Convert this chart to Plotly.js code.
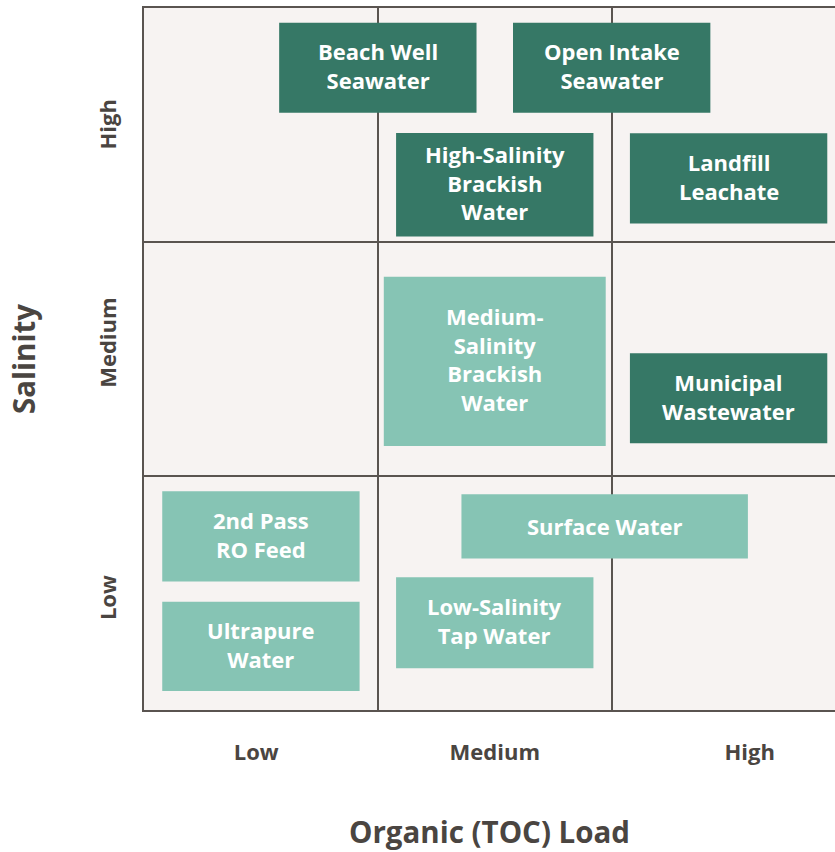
<!DOCTYPE html>
<html>
<head>
<meta charset="utf-8">
<script src="https://cdn.plot.ly/plotly-3.0.1.min.js"></script>
<style>html,body{margin:0;padding:0;background:#ffffff;overflow:hidden}#chart{width:835px;height:852px}</style>
</head>
<body>
<div id="chart"></div>
<script>
// Water sources positioned by Organic (TOC) load (x) and Salinity (y), 0..3 scale
const sourceLabels = [
  'Beach Well<br>Seawater',
  'Open Intake<br>Seawater',
  'High-Salinity<br>Brackish<br>Water',
  'Landfill<br>Leachate',
  'Medium-<br>Salinity<br>Brackish<br>Water',
  'Municipal<br>Wastewater',
  '2nd Pass<br>RO Feed',
  'Ultrapure<br>Water',
  'Surface Water',
  'Low-Salinity<br>Tap Water'
];
const organicCenter = [1.0, 2.0, 1.5, 2.5, 1.5, 2.5, 0.5, 0.5, 1.97, 1.5];
const salinityCenter = [2.745, 2.745, 2.245, 2.272, 1.49, 1.332, 0.742, 0.272, 0.785, 0.373];
const organicSpan = [0.844, 0.844, 0.844, 0.844, 0.949, 0.844, 0.844, 0.844, 1.225, 0.844];
const salinitySpan = [0.385, 0.385, 0.442, 0.385, 0.724, 0.385, 0.385, 0.382, 0.275, 0.389];
const tier = ['dark','dark','dark','dark','light','dark','light','light','light','light'];

const levelLabels = ['Low', 'Medium', 'High'];
const organicLabelPos = [0.48, 1.5, 2.59];
const salinityLabelPos = [0.466, 1.556, 2.489];
const cellBounds = [1, 2];

const colors = {dark: '#367866', light: '#86c4b4'};
const textColor = '#4a4541';
const lineColor = '#5a5450';
const FONT = '"Open Sans", "Noto Sans", sans-serif';

const shapes = sourceLabels.map((s, i) => ({
  type: 'rect', xref: 'x', yref: 'y', layer: 'above',
  x0: organicCenter[i] - organicSpan[i] / 2,
  x1: organicCenter[i] + organicSpan[i] / 2,
  y0: salinityCenter[i] - salinitySpan[i] / 2,
  y1: salinityCenter[i] + salinitySpan[i] / 2,
  fillcolor: colors[tier[i]],
  line: {width: 0}
}));

const annotations = sourceLabels.map((s, i) => ({
  x: organicCenter[i], y: salinityCenter[i], xref: 'x', yref: 'y',
  text: s, showarrow: false, align: 'center', yshift: s.indexOf('<br>') >= 0 ? 2 : 0,
  font: {family: FONT, size: 22, color: '#ffffff', weight: 'bold'}
}));

const trace = {
  x: organicCenter, y: salinityCenter, type: 'scatter', mode: 'markers',
  marker: {opacity: 0}, hoverinfo: 'skip', showlegend: false
};

const layout = {
  width: 835, height: 852,
  margin: {l: 143.5, r: 0, t: 8, b: 142},
  paper_bgcolor: '#ffffff',
  plot_bgcolor: '#f7f3f2',
  showlegend: false,
  xaxis: {
    range: [0, 2.955], fixedrange: true, zeroline: false,
    showgrid: false, showline: true, mirror: true, linecolor: lineColor, linewidth: 2,
    tickmode: 'array', tickvals: organicLabelPos, ticktext: levelLabels, ticks: '',
    ticklabelstandoff: 22,
    tickfont: {family: FONT, size: 22, color: textColor, weight: 'bold'},
    minor: {tickmode: 'array', tickvals: cellBounds, showgrid: true, gridcolor: lineColor, gridwidth: 2, ticks: ''},
    title: {text: 'Organic (TOC) Load', standoff: 57, font: {family: FONT, size: 29.5, color: textColor, weight: 'bold'}}
  },
  yaxis: {
    range: [0, 3], fixedrange: true, zeroline: false,
    showgrid: false, showline: true, mirror: false, linecolor: lineColor, linewidth: 2,
    tickmode: 'array', tickvals: salinityLabelPos, ticktext: levelLabels, ticks: '',
    tickangle: -90, ticklabelstandoff: 17,
    tickfont: {family: FONT, size: 22, color: textColor, weight: 'bold'},
    minor: {tickmode: 'array', tickvals: cellBounds, showgrid: true, gridcolor: lineColor, gridwidth: 2, ticks: ''},
    title: {text: 'Salinity', standoff: 48, font: {family: FONT, size: 29.5, color: textColor, weight: 'bold'}}
  },
  shapes: shapes,
  annotations: annotations
};

Plotly.newPlot('chart', [trace], layout, {displayModeBar: false, staticPlot: true});
</script>
</body>
</html>
